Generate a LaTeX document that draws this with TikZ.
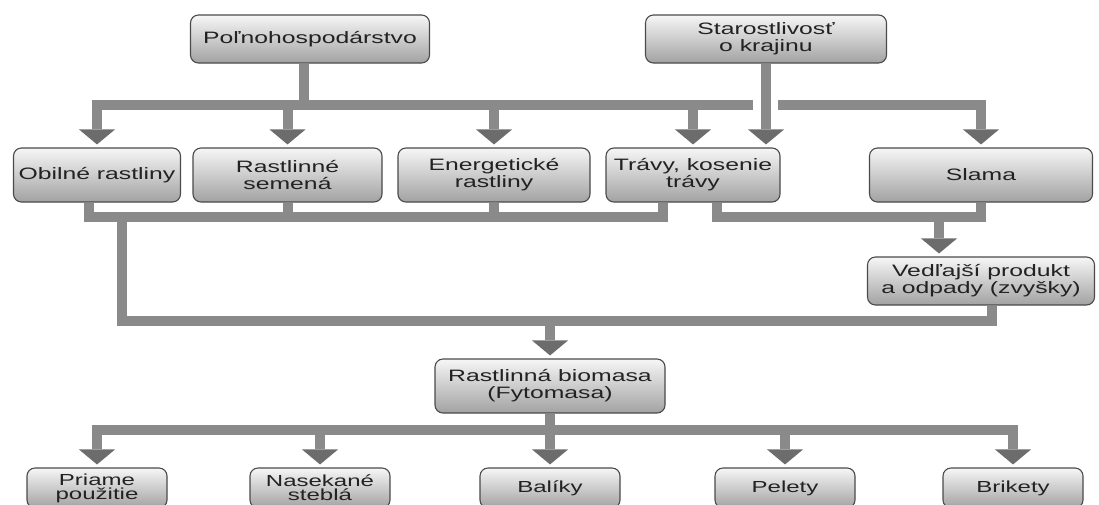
\documentclass[tikz,border=0pt]{standalone}
\usepackage{fontspec}
\setmainfont{Liberation Sans}[FakeStretch=1.5]
\usetikzlibrary{arrows.meta}

\definecolor{boxline}{HTML}{4A4A4A}
\definecolor{boxtop}{HTML}{F6F6F6}
\definecolor{boxbot}{HTML}{A2A2A2}
\definecolor{textc}{HTML}{222222}
\definecolor{linkc}{HTML}{8A8A8A}
\definecolor{headc}{HTML}{6C6C6C}

\begin{document}
\begin{tikzpicture}[x=1pt,y=-1pt,
  box/.style={draw=boxline, line width=1.1pt, rounded corners=8pt,
    top color=boxtop, bottom color=boxbot, align=center, text=textc,
    font=\fontsize{16.5}{17}\selectfont, inner sep=0pt, minimum height=54pt},
  lowbox/.style={box, font=\fontsize{16}{14}\selectfont, minimum width=140pt, minimum height=40pt},
  link/.style={draw=linkc, line width=10pt},
  bar/.style={link, line cap=rect},
  arr/.style={link, shorten >=3pt,
    -{Triangle[length=15pt, width=36pt, line width=0pt, color=headc]}}
]
\fill[white] (0,0) rectangle (1099,504);
\useasboundingbox (0,0) rectangle (1099,504);

% sources
\node[box, minimum width=239pt, minimum height=48pt] (polno) at (310,39) {Poľnohospodárstvo};
\node[box, minimum width=241pt, minimum height=48pt] (staro) at (766,39) {Starostlivosť\\o krajinu};

% crops and materials
\node[box, minimum width=167pt] (obil)  at (97,175)    {Obilné rastliny};
\node[box, minimum width=189pt] (sem)   at (287.5,175) {Rastlinné\\semená};
\node[box, minimum width=192pt] (ener)  at (494,175)   {Energetické\\rastliny};
\node[box, minimum width=174pt] (trav)  at (693,175)   {Trávy, kosenie\\trávy};
\node[box, minimum width=223pt] (slama) at (981,175)   {Slama};

\node[box, minimum width=227pt, minimum height=48pt] (vedl) at (981,281) {Vedľajší produkt\\a odpady (zvyšky)};
\node[box, minimum width=230pt] (bio) at (550,386) {Rastlinná biomasa\\(Fytomasa)};

% products
\node[lowbox] (priame)  at (97,488)   {Priame\\použitie};
\node[lowbox] (nasek)   at (320,488)  {Nasekané\\steblá};
\node[lowbox] (baliky)  at (550,488)  {Balíky};
\node[lowbox] (pelety)  at (785,488)  {Pelety};
\node[lowbox] (brikety) at (1013,488) {Brikety};

% upper distribution bar
\coordinate (tb) at (0,105);
\coordinate (ps) at (304,105);
\coordinate (gapL) at (748,105);
\coordinate (gapR) at (783,105);
\draw[link] (ps |- polno.south) -- (ps);
\draw[bar] (obil.north |- tb) -- (gapL);
\draw[bar] (gapR) -- (slama.north |- tb);
\foreach \n in {obil,sem,ener,trav,slama}
  \draw[arr] (\n.north |- tb) -- (\n.north);
\draw[arr] (staro.south) -- (staro.south |- trav.north);

% collecting bars below the crops
\coordinate (mb) at (0,217);
\coordinate (os) at (89,217);
\coordinate (t1) at (663,217);
\coordinate (t2) at (717,217);
\coordinate (va) at (939,217);
\draw[link] (os |- obil.south) -- (os);
\draw[link] (sem.south) -- (sem.south |- mb);
\draw[link] (ener.south) -- (ener.south |- mb);
\draw[link] (t1 |- trav.south) -- (t1);
\draw[link] (t2 |- trav.south) -- (t2);
\draw[link] (slama.south) -- (slama.south |- mb);
\draw[bar] (os) -- (t1);
\draw[bar] (t2) -- (slama.south |- mb);
\draw[arr] (va) -- (va |- vedl.north);

% joining into the biomass
\coordinate (lb) at (0,321);
\coordinate (ld) at (122,217);
\coordinate (vs) at (992,321);
\draw[link] (ld) -- (ld |- lb);
\draw[link] (vs |- vedl.south) -- (vs);
\draw[bar] (ld |- lb) -- (vs);
\draw[arr] (bio.north |- lb) -- (bio.north);

% products of the biomass
\coordinate (bb) at (0,430);
\draw[link] (bio.south) -- (bio.south |- bb);
\draw[bar] (priame.north |- bb) -- (brikety.north |- bb);
\foreach \n in {priame,nasek,baliky,pelety,brikety}
  \draw[arr] (\n.north |- bb) -- (\n.north);
\end{tikzpicture}
\end{document}
